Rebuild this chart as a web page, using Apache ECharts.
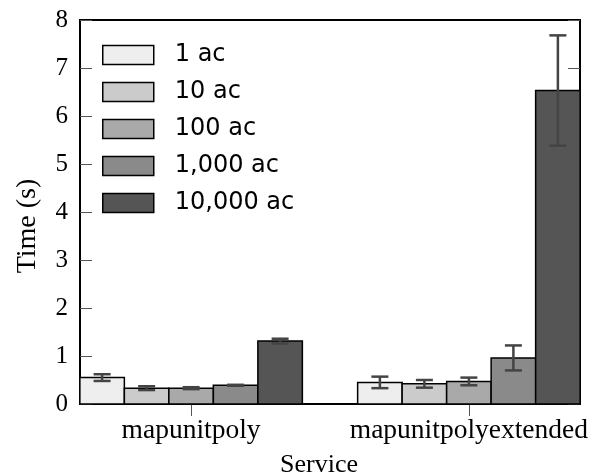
<!DOCTYPE html>
<html lang="en">
  <head>
    <meta charset="utf-8" />
  </head>
  <body style="margin: 0; background: #fff">
    <div id="container" style="width: 598px; height: 474px"></div>

    <script src="https://cdn.jsdelivr.net/npm/echarts@6/dist/echarts.min.js"></script>
    <script>
      // services on the x axis, placed at x = 1 and x = 2
      var services = ["mapunitpoly", "mapunitpolyextended"];
      var servicePos = [1, 2];
      var sizes = ["1 ac", "10 ac", "100 ac", "1,000 ac", "10,000 ac"];
      // mean time (s) per size, one entry per service
      var means = [
        [0.55, 0.45],
        [0.33, 0.42],
        [0.33, 0.47],
        [0.39, 0.96],
        [1.31, 6.53],
      ];
      // half width of the error bar
      var errs = [
        [0.07, 0.12],
        [0.04, 0.08],
        [0.02, 0.08],
        [0.01, 0.26],
        [0.05, 1.15],
      ];
      var yTicks = [0, 1, 2, 3, 4, 5, 6, 7, 8];
      var barColors = ["#eeeeee", "#cbcbcb", "#a9a9a9", "#8a8a8a", "#555555"];

      var serif = "Liberation Serif";
      var barW = 44.5;

      var myChart = echarts.init(document.getElementById("container"), null, {
        renderer: "canvas",
      });

      // one custom series per size: bar + error bar, placed side by side
      var series = sizes.map(function (name, i) {
        return {
          name: name,
          type: "custom",
          itemStyle: { color: barColors[i], borderColor: "#000", borderWidth: 1.5 },
          data: servicePos.map(function (x, j) {
            return [x, means[i][j], means[i][j] - errs[i][j], means[i][j] + errs[i][j]];
          }),
          encode: { x: 0, y: [1, 2, 3] },
          renderItem: function (params, api) {
            var base = api.coord([api.value(0), 0]);
            var top = api.coord([api.value(0), api.value(1)]);
            var lo = api.coord([api.value(0), api.value(2)]);
            var hi = api.coord([api.value(0), api.value(3)]);
            var cx = base[0] + (i - 2) * barW;
            var cap = 8.5;
            var st = { stroke: "#444", lineWidth: 2.5 };
            return {
              type: "group",
              children: [
                {
                  type: "rect",
                  shape: { x: cx - barW / 2, y: top[1], width: barW, height: base[1] - top[1] },
                  style: { fill: barColors[i], stroke: "#000", lineWidth: 1.5 },
                },
                { type: "line", shape: { x1: cx, y1: lo[1], x2: cx, y2: hi[1] }, style: st },
                { type: "line", shape: { x1: cx - cap, y1: lo[1], x2: cx + cap, y2: lo[1] }, style: st },
                { type: "line", shape: { x1: cx - cap, y1: hi[1], x2: cx + cap, y2: hi[1] }, style: st },
              ],
            };
          },
        };
      });

      var tickStyle = { show: true, inside: true, length: 12, lineStyle: { color: "#555", width: 1 } };

      var option = {
        animation: false,
        backgroundColor: "#fff",
        grid: {
          left: 80,
          right: 18,
          top: 20,
          bottom: 70,
          containLabel: false,
          outerBoundsMode: "none",
          show: true,
          borderColor: "#000",
          borderWidth: 2,
        },
        legend: {
          orient: "vertical",
          left: 97,
          top: 38,
          itemWidth: 51,
          itemHeight: 19,
          itemGap: 13,
          icon: "rect",
          data: sizes,
          itemStyle: { borderColor: "#000", borderWidth: 1.5 },
          textStyle: {
            fontFamily: "DejaVu Sans",
            fontSize: 24,
            color: "#000",
            padding: [0, 0, 0, 16],
          },
        },
        xAxis: [
          {
            type: "value",
            min: 0.6,
            max: 2.4,
            name: "Service",
            nameLocation: "middle",
            nameGap: 48,
            nameTextStyle: { fontFamily: serif, fontSize: 26, color: "#000", padding: [0, 22, 0, 0] },
            splitLine: { show: false },
            axisLine: { show: false },
            axisTick: Object.assign({ customValues: servicePos }, tickStyle),
            axisLabel: {
              customValues: servicePos,
              fontFamily: serif,
              fontSize: 27.5,
              color: "#000",
              margin: 13,
              formatter: function (v) {
                return services[servicePos.indexOf(v)];
              },
            },
          },
          {
            type: "value",
            position: "top",
            min: 0.6,
            max: 2.4,
            splitLine: { show: false },
            axisLine: { show: false },
            axisTick: Object.assign({ customValues: servicePos }, tickStyle),
            axisLabel: { show: false },
          },
        ],
        yAxis: [
          {
            type: "value",
            min: yTicks[0],
            max: yTicks[yTicks.length - 1],
            interval: 1,
            name: "Time (s)",
            nameLocation: "middle",
            nameGap: 38,
            nameTextStyle: { fontFamily: serif, fontSize: 28, color: "#000", padding: [0, 28, 0, 0] },
            splitLine: { show: false },
            axisLine: { show: false },
            axisTick: tickStyle,
            axisLabel: { fontFamily: serif, fontSize: 25, color: "#000", margin: 12 },
          },
          {
            type: "value",
            position: "right",
            min: yTicks[0],
            max: yTicks[yTicks.length - 1],
            interval: 1,
            splitLine: { show: false },
            axisLine: { show: false },
            axisTick: tickStyle,
            axisLabel: { show: false },
          },
        ],
        series: series,
      };

      myChart.setOption(option);
    </script>
  </body>
</html>
